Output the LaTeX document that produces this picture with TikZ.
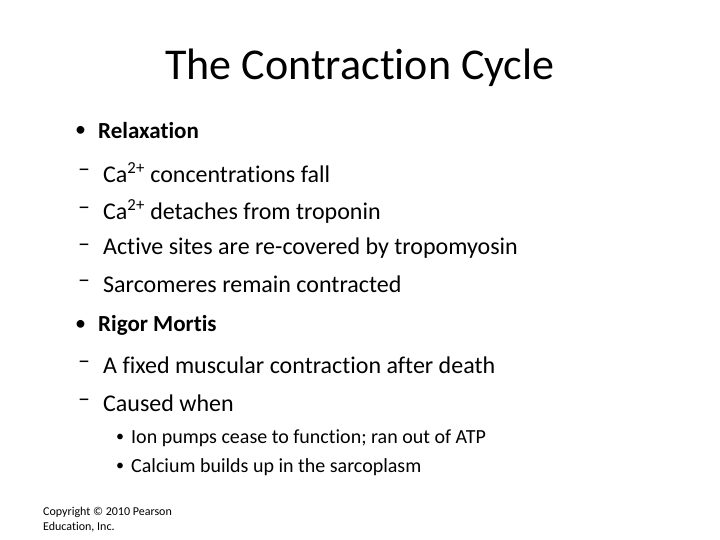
\documentclass[tikz,border=0pt]{standalone}
\usepackage{fontspec}
\setmainfont[Ligatures=NoCommon]{Carlito}
\begin{document}
\begin{tikzpicture}[x=1pt,y=-1pt,
  every node/.style={inner sep=0pt,anchor=west},
  lone/.style={font=\fontsize{23}{27}\selectfont\bfseries},
  ltwo/.style={font=\fontsize{24}{28}\selectfont},
  lthree/.style={font=\fontsize{20}{24}\selectfont},
  bul/.style={font=\fontsize{22}{26}\selectfont},
  sbul/.style={font=\fontsize{16}{20}\selectfont}]
\useasboundingbox (0,0) rectangle (720,540);
\node[anchor=center,font=\fontsize{44}{52}\selectfont] (title) at (360,68) {The Contraction Cycle};
\node[bul] (b1) at (75,131) {•};
\node[lone] (t1) at (98,131) {Relaxation};
\node[ltwo] (d1) at (78,173) {–};
\node[ltwo] (a1) at (103,173) {Ca\textsuperscript{2+} concentrations fall};
\node[ltwo] (d2) at (78,211) {–};
\node[ltwo] (a2) at (103,211) {Ca\textsuperscript{2+} detaches from troponin};
\node[ltwo] (d3) at (78,248) {–};
\node[ltwo] (a3) at (103,248) {Active sites are re-covered by tropomyosin};
\node[ltwo] (d4) at (78,284) {–};
\node[ltwo] (a4) at (103,284) {Sarcomeres remain contracted};
\node[bul] (b2) at (75,325) {•};
\node[lone] (t2) at (98,325) {Rigor Mortis};
\node[ltwo] (d5) at (78,365) {–};
\node[ltwo] (a5) at (103,365) {A fixed muscular contraction after death};
\node[ltwo] (d6) at (78,403) {–};
\node[ltwo] (a6) at (103,403) {Caused when};
\node[sbul] (s1) at (116,438) {•};
\node[lthree] (c1) at (131,438) {Ion pumps cease to function; ran out of ATP};
\node[sbul] (s2) at (116,467) {•};
\node[lthree] (c2) at (131,467) {Calcium builds up in the sarcoplasm};
\node[font=\fontsize{12}{15}\selectfont,align=left,anchor=north west] (copy) at (43,507) {Copyright © 2010 Pearson\\Education, Inc.};
\end{tikzpicture}
\end{document}
